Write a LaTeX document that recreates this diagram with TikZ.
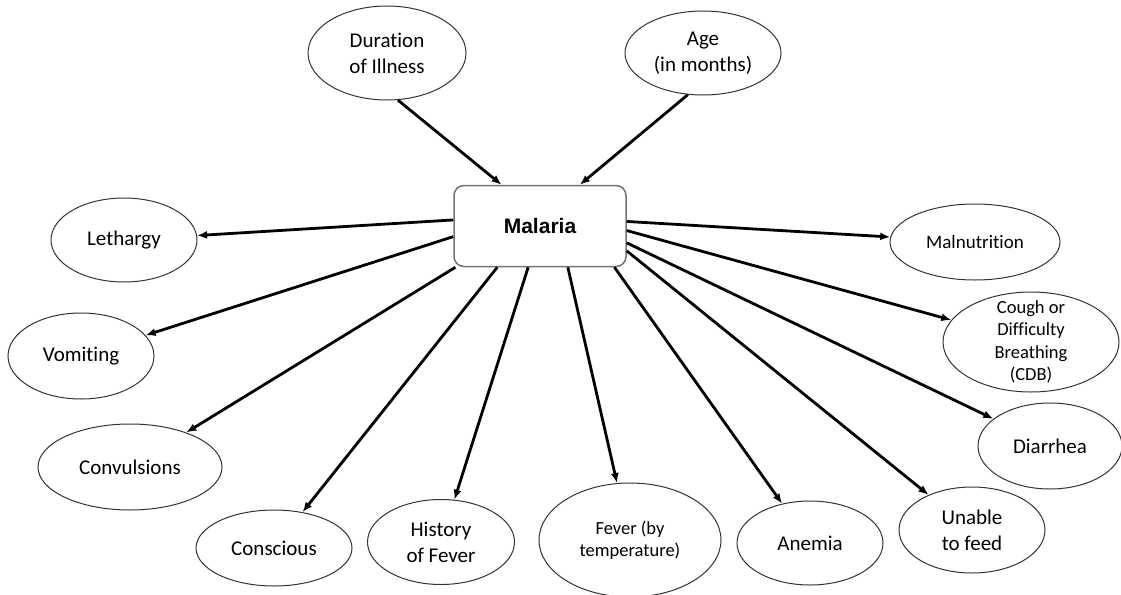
\documentclass[tikz,border=0pt]{standalone}
\usepackage{fontspec}
\setmainfont{Carlito}[Ligatures=NoCommon]
\newfontfamily\hubfont{Liberation Sans}
\usepackage{tikz}
\usetikzlibrary{shapes.geometric}
\usetikzlibrary{arrows.meta}

\begin{document}
\begin{tikzpicture}[
			     x=1pt, y=-1pt,
			     >={Latex[length=10pt,width=8pt]},
			     oval/.style={ellipse, draw=black!80, line width=1pt, inner sep=0pt, align=center, font=\fontsize{21}{26}\selectfont},
			     small text/.style={font=\fontsize{18.5}{22.5}\selectfont},
			     hub/.style={draw=black!55, line width=1.5pt, rounded corners=10pt, minimum width=172pt, minimum height=81pt, font=\hubfont\bfseries\fontsize{21}{26}\selectfont},
			     arrow line/.style={->, line width=2.8pt}
			     ]
\useasboundingbox (0,0) rectangle (1121,594);
\node[hub] (mal) at (540,226) {Malaria};
%
\node[oval, minimum width=158pt, minimum height=94pt] (dur) at (387,53) {Duration\\of Illness};
\node[oval, minimum width=156pt, minimum height=84pt] (age) at (703,53) {Age\\(in months)};
\node[oval, minimum width=146pt, minimum height=84pt] (leth) at (124,240) {Lethargy};
\node[oval, minimum width=146pt, minimum height=86pt] (vom) at (81,356) {Vomiting};
\node[oval, minimum width=184pt, minimum height=86pt] (conv) at (130,467) {Convulsions};
\node[oval, minimum width=156pt, minimum height=76pt] (consc) at (274,548) {Conscious};
\node[oval, minimum width=147pt, minimum height=85pt] (hist) at (441,542) {History\\of Fever};
\node[oval, small text, minimum width=182pt, minimum height=114pt] (fev) at (630,540) {Fever (by\\temperature)};
\node[oval, minimum width=146pt, minimum height=84pt] (anem) at (810,543) {Anemia};
\node[oval, minimum width=146pt, minimum height=86pt] (unab) at (972,530) {Unable\\to feed};
\node[oval, minimum width=144pt, minimum height=86pt] (diar) at (1050,446) {Diarrhea};
\node[oval, small text, inner ysep=-14pt, minimum width=176pt, minimum height=100pt] (cdb) at (1031,342) {Cough or\\Difficulty\\Breathing\\(CDB)};
\node[oval, font=\fontsize{19}{23}\selectfont, minimum width=170pt, minimum height=76pt] (maln) at (975,242) {Malnutrition};
%
\path (dur.283) edge[arrow line] (mal.133.5);
\path (age.250) edge[arrow line] (mal.46.5);
\path (mal.176) edge[arrow line] (leth);
\path (mal.187) edge[arrow line] (vom);
\path (mal.206) edge[arrow line] (conv);
\path (mal.224) edge[arrow line] (consc);
\path (mal.254) edge[arrow line] (hist);
\path (mal.304) edge[arrow line] (fev);
\path (mal.331) edge[arrow line] (anem);
\path (mal.344) edge[arrow line] (unab);
\path (mal.349.5) edge[arrow line] (diar);
\path (mal.357) edge[arrow line] (cdb);
\path (mal.3) edge[arrow line] (maln);
\end{tikzpicture}
\end{document}
